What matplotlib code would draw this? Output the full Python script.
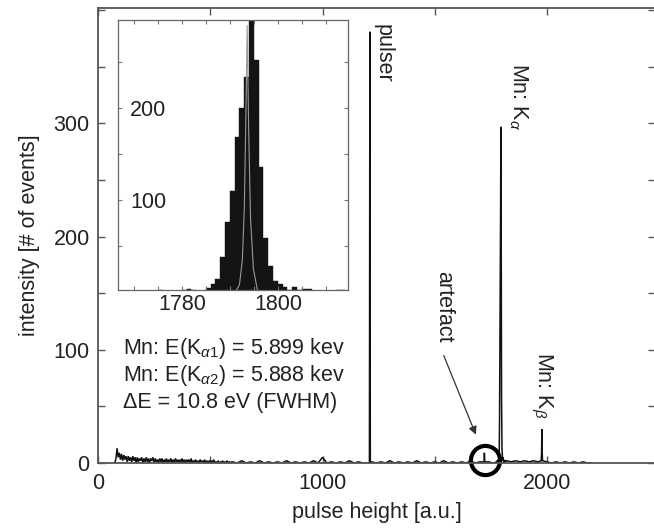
import numpy as np
import matplotlib
matplotlib.use("Agg")
import matplotlib.pyplot as plt
from matplotlib.ticker import MultipleLocator, FixedLocator

plt.rcParams['font.family'] = ['Liberation Sans', 'DejaVu Sans']
plt.rcParams['mathtext.fontset'] = 'custom'
plt.rcParams['mathtext.rm'] = 'Liberation Sans'
plt.rcParams['mathtext.it'] = 'Liberation Sans:italic'
plt.rcParams['mathtext.bf'] = 'Liberation Sans:bold'

# ---------------- data ----------------
# low-energy noise tail, channels 75, 80, 85, ... (5-channel spacing)
tail_start, tail_step = 75, 5
tail_counts = [0, 4, 13, 5, 9, 3, 8, 2, 7, 3, 6, 1, 6, 2, 5, 1, 6, 2, 5, 0,
               5, 1, 4, 2, 5, 0, 4, 1, 5, 1, 4, 0, 4, 2, 5, 0, 4, 1, 3, 0,
               4, 1, 4, 0, 3, 1, 4, 0, 3, 1, 4, 0, 3, 0, 4, 1, 3, 0, 3, 1,
               4, 0, 3, 0, 3, 1, 3, 0, 4, 0, 2, 1, 3, 0, 2, 0, 3, 1, 2, 0,
               3, 0, 2, 0, 2, 1, 2, 0, 3, 0, 1, 0, 2, 0, 1, 0, 2, 0, 1, 0,
               2, 0, 1, 0, 1]
# flat background up to the pulser, channels 600 ... 1180 (20-channel spacing)
mid_start, mid_step = 600, 20
mid_counts = [1, 0, 2, 0, 1, 0, 2, 0, 1, 0, 1, 0, 2, 0, 1, 0, 1, 0, 2, 0,
              5, 0, 1, 0, 1, 0, 2, 0, 1, 0]
# background between pulser and Mn K-alpha, channels 1220 ... 1760
gap_start, gap_step = 1220, 20
gap_counts = [1, 0, 1, 0, 2, 0, 1, 0, 1, 0, 2, 0, 1, 0, 1, 0, 2, 0, 1, 0,
              1, 0, 2, 0, 1, 2, 1, 0]
# background above Mn K-alpha, channels 1820 ... 2200
high_start, high_step = 1820, 20
high_counts = [2, 1, 2, 1, 2, 1, 2, 1, 2, 1, 0, 1, 0, 1, 0, 1, 0, 1, 0, 0]

# pulser line
pulser_channels = [1209, 1211, 1213]
pulser_counts = [0, 381, 0]
# artefact peak
artefact_channels = [1719, 1721, 1723]
artefact_counts = [1, 9, 1]
# Mn K-beta line
kb_channels = [1974, 1976, 1977, 1978, 1980]
kb_counts = [2, 10, 30, 12, 2]

# Mn K-alpha region, one bin per channel (bin n covers [n, n+1))
ka_start = 1767
ka_counts = [0, 0, 1, 0, 0, 0, 0, 0, 2, 1, 0, 0, 1, 2, 3, 2, 0, 1, 4,
             8, 14, 38, 76, 110, 169, 200, 234, 297, 252, 136, 59, 28, 12,
             8, 5, 2, 5, 2, 3, 3, 1, 0, 0, 0, 1, 2, 2, 1]

# line-shape fit drawn over the K-alpha histogram
fit_x = [1791.2, 1792.0, 1792.6, 1793.0, 1793.3, 1793.6, 1793.9, 1794.3, 1794.9, 1795.8]
fit_y = [0, 8, 35, 90, 180, 290, 180, 80, 25, 0]

artefact_position = (1724, 2.6)

peak_labels = ["pulser", r"Mn: K$_{\alpha}$", r"Mn: K$_{\beta}$", "artefact"]
info_lines = [r"Mn: E(K$_{\alpha1}$) = 5.899 kev",
              r"Mn: E(K$_{\alpha2}$) = 5.888 kev",
              "\u0394E = 10.8 eV (FWHM)"]

# ---------------- assemble spectrum ----------------
def grid(start, step, counts):
    return start + step * np.arange(len(counts))

ka_channels = ka_start + np.arange(len(ka_counts))
chan = np.concatenate([
    grid(tail_start, tail_step, tail_counts),
    grid(mid_start, mid_step, mid_counts),
    grid(gap_start, gap_step, gap_counts),
    grid(high_start, high_step, high_counts),
    pulser_channels, artefact_channels, kb_channels,
    ka_channels + 0.5,
]).astype(float)
cnt = np.concatenate([tail_counts, mid_counts, gap_counts, high_counts,
                      pulser_counts, artefact_counts, kb_counts, ka_counts]).astype(float)
order = np.argsort(chan, kind="stable")
chan, cnt = chan[order], cnt[order]

# ---------------- figure ----------------
FS = 15.5
TXT = '#222222'
SPINE = '#555555'

fig = plt.figure(figsize=(6.54, 5.28), dpi=100)
ax = fig.add_axes([98 / 654, 65 / 528, 557 / 654, 455 / 528])
ax.plot(chan, cnt, color='#111111', lw=1.1, solid_joinstyle='miter')
ax.set_xlim(0, 2481)
ax.set_ylim(0, 402)

ax.xaxis.set_major_locator(MultipleLocator(1000))
ax.xaxis.set_minor_locator(MultipleLocator(500))
ax.yaxis.set_major_locator(FixedLocator([0, 100, 200, 300]))
ax.yaxis.set_minor_locator(MultipleLocator(50))
ax.tick_params(which='both', direction='in', top=True, right=True,
               length=5, width=1.0, color=SPINE, labelsize=FS, labelcolor=TXT)
ax.tick_params(axis='x', pad=7)
ax.tick_params(axis='y', pad=6)
for s in ax.spines.values():
    s.set_color(SPINE)
    s.set_linewidth(1.3)

ax.set_xlabel("pulse height [a.u.]", fontsize=FS, color=TXT, labelpad=6)
ax.set_ylabel("intensity [# of events]", fontsize=FS, color=TXT, labelpad=10)

# peak annotations
ax.text(1222, 388, peak_labels[0], rotation=-90, ha='left', va='top',
        fontsize=FS, color=TXT)
ax.text(1822, 353, peak_labels[1], rotation=-90, ha='left', va='top',
        fontsize=FS, color=TXT)
ax.text(1918, 98, peak_labels[2], rotation=-90, ha='left', va='top',
        fontsize=FS, color=TXT)
ax.text(1492, 170, peak_labels[3], rotation=-90, ha='left', va='top',
        fontsize=FS, color=TXT)
ax.annotate("", xy=(1683, 25), xytext=(1540, 95),
            arrowprops=dict(arrowstyle='-|>', color='#333333', lw=0.9,
                            mutation_scale=12, shrinkA=0, shrinkB=0))
ax.plot([artefact_position[0]], [artefact_position[1]], marker='o',
        markersize=21, markerfacecolor='none', markeredgecolor='black',
        markeredgewidth=3.0, clip_on=False)

# fit results
for i, line in enumerate(info_lines):
    ax.text(111, 101.5 - 24.2 * i, line, ha='left', va='center',
            fontsize=FS, color=TXT)

# ---------------- inset ----------------
axi = fig.add_axes([118 / 654, (528 - 290) / 528, 230 / 654, 270 / 528])
axi.bar(ka_channels, ka_counts, width=1.0, align='edge',
        color='#141414', edgecolor='#141414', linewidth=0.3)
axi.plot(fit_x, fit_y, color='#9a9a9a', lw=0.8)
axi.set_xlim(1766.7, 1814.6)
axi.set_ylim(2, 296)
axi.xaxis.set_major_locator(MultipleLocator(20))
axi.xaxis.set_minor_locator(MultipleLocator(5))
axi.yaxis.set_major_locator(MultipleLocator(100))
axi.yaxis.set_minor_locator(MultipleLocator(50))
axi.tick_params(which='both', direction='in', top=True, right=True,
                length=3, width=0.8, color='#777777', labelsize=FS, labelcolor=TXT)
axi.tick_params(axis='x', pad=3)
axi.tick_params(axis='y', pad=-12 * 72 / 100)
for lab in axi.get_yticklabels():
    lab.set_horizontalalignment('left')
for s in axi.spines.values():
    s.set_color('#666666')
    s.set_linewidth(0.9)

fig.savefig("out.png", dpi=100)
